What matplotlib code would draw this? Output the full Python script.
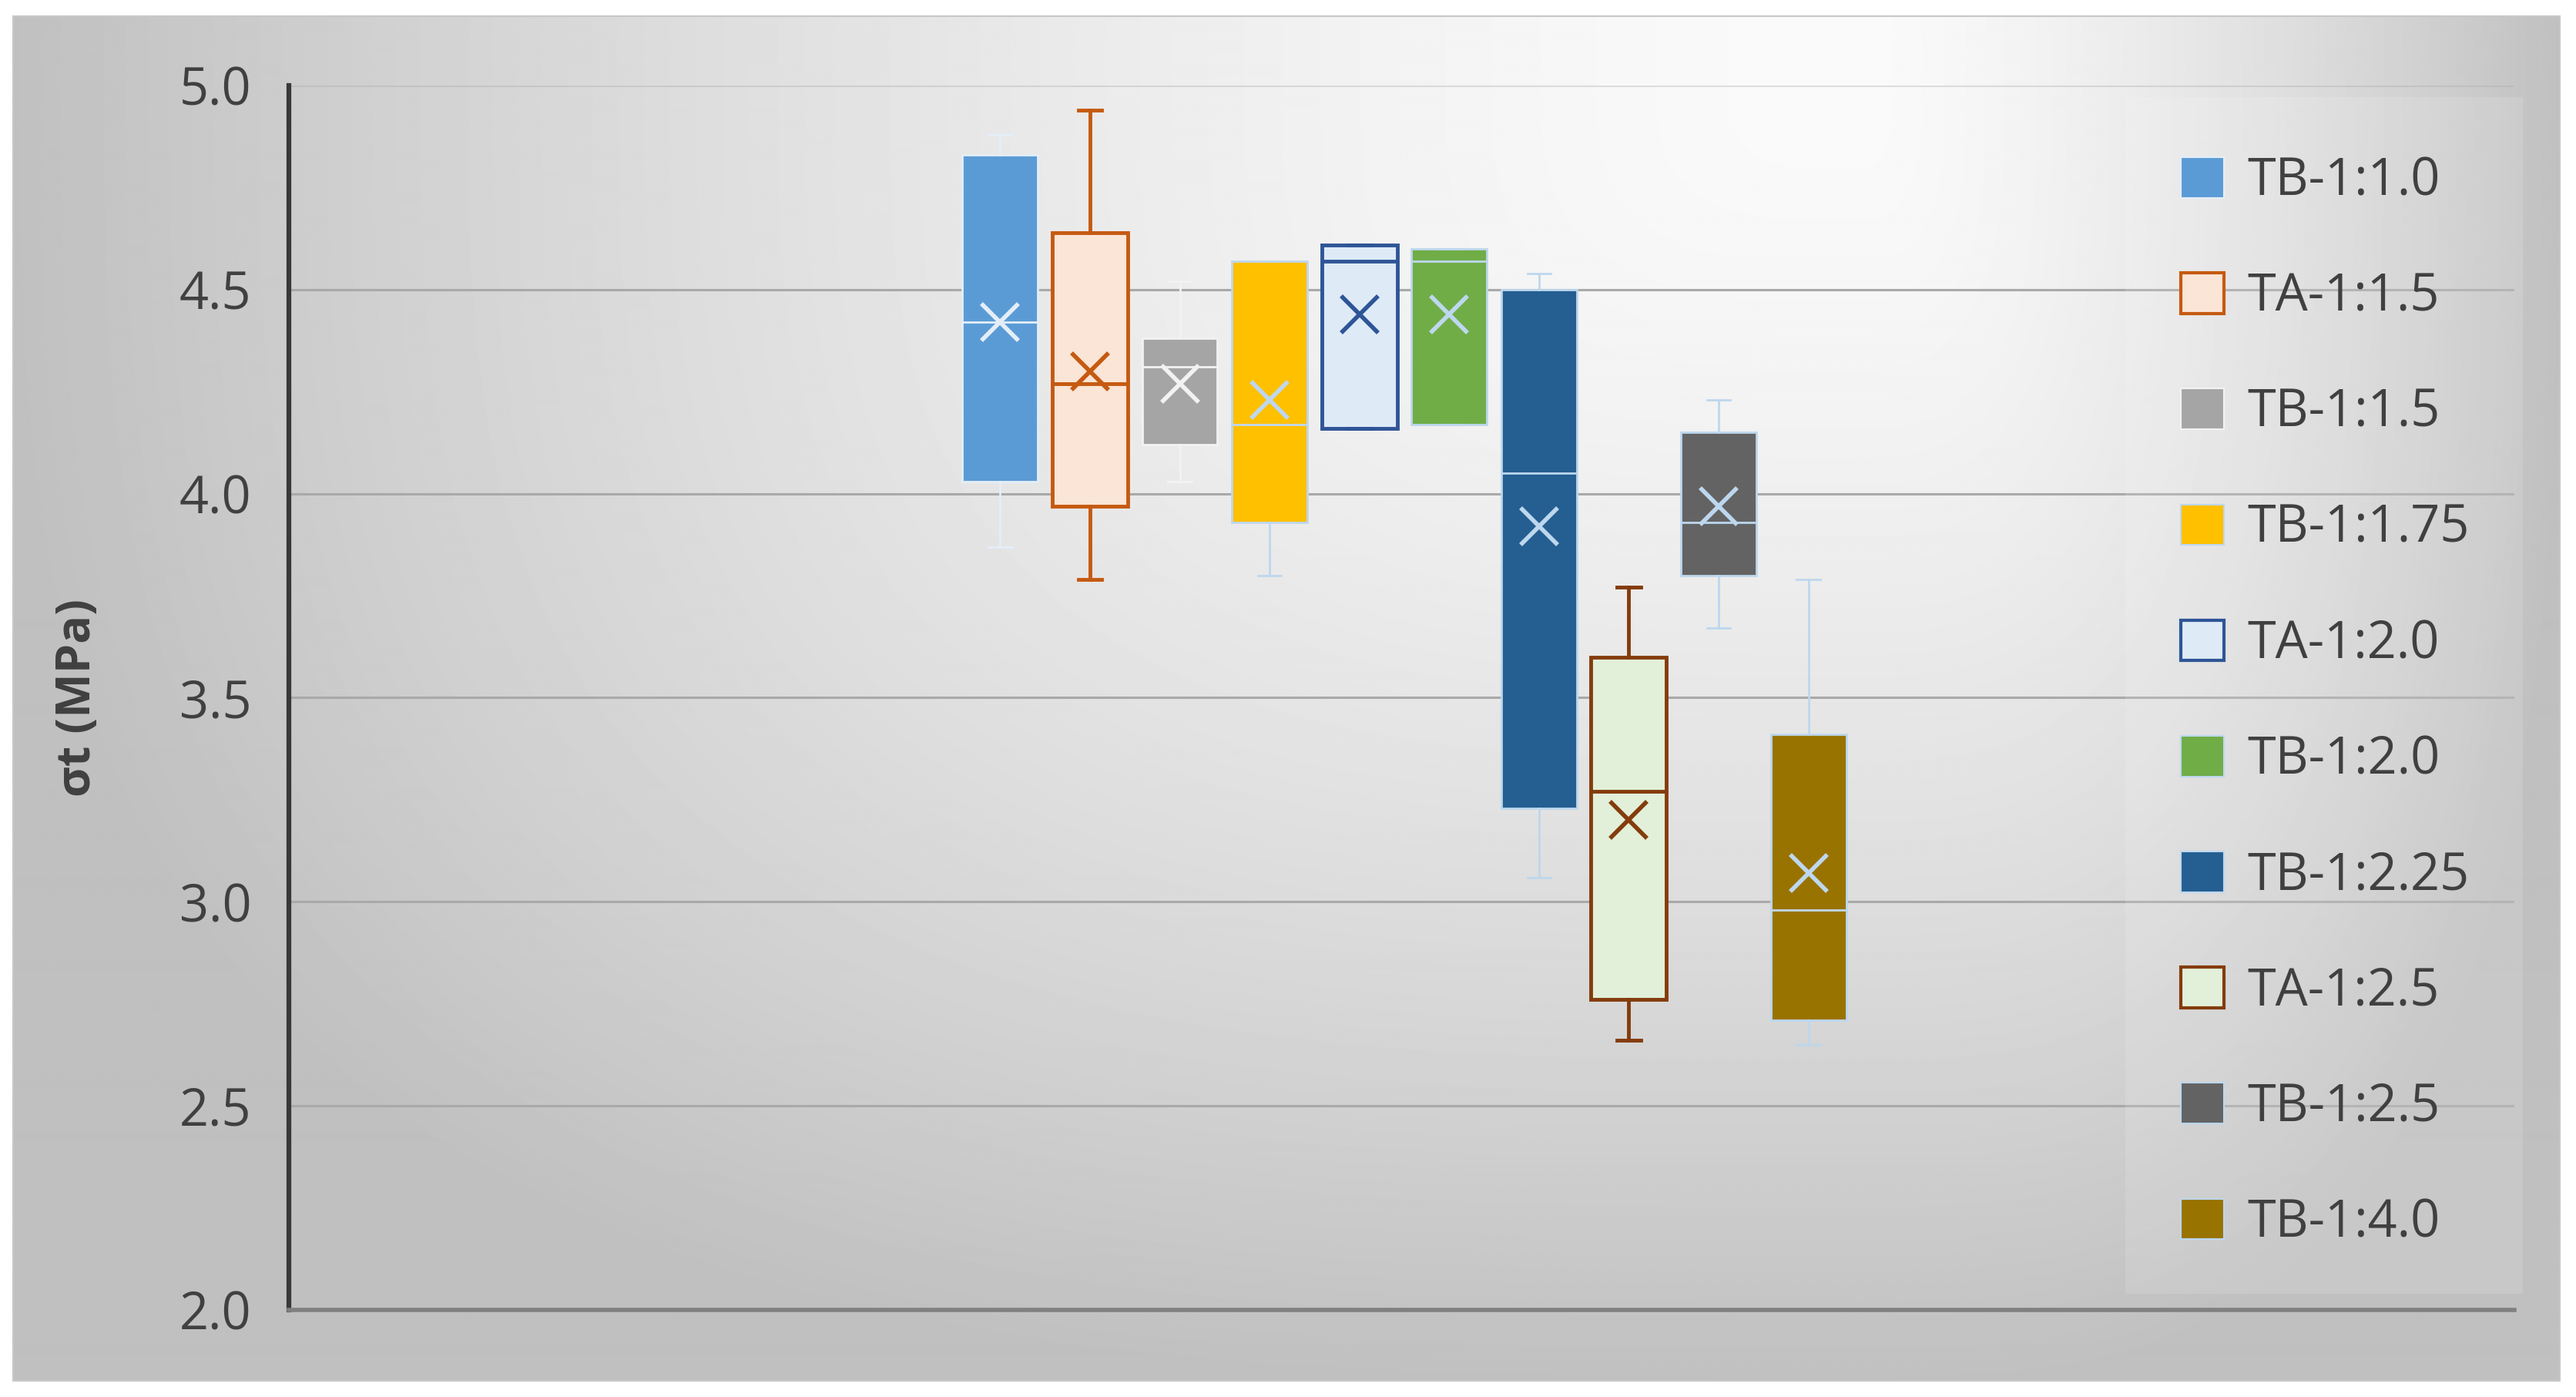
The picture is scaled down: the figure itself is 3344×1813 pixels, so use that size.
import numpy as np
import matplotlib
matplotlib.use('Agg')
import matplotlib.pyplot as plt
from matplotlib.patches import Patch, Rectangle

plt.rcParams['font.family'] = ['Open Sans', 'DejaVu Sans']

# ------------------------------------------------------------------ #
#  Data                                      #
# ------------------------------------------------------------------ #
LABELS   = ['TB-1:1.0', 'TA-1:1.5', 'TB-1:1.5', 'TB-1:1.75', 'TA-1:2.0',
            'TB-1:2.0', 'TB-1:2.25', 'TA-1:2.5', 'TB-1:2.5', 'TB-1:4.0']
WHIS_HI  = [4.88, 4.94, 4.52, 4.57, 4.61, 4.60, 4.54, 3.77, 4.23, 3.79]
Q3       = [4.83, 4.64, 4.38, 4.57, 4.61, 4.60, 4.50, 3.60, 4.15, 3.41]
MEDIAN   = [4.42, 4.27, 4.31, 4.17, 4.57, 4.57, 4.05, 3.27, 3.93, 2.98]
MEAN     = [4.42, 4.30, 4.27, 4.23, 4.44, 4.44, 3.92, 3.20, 3.97, 3.07]
Q1       = [4.03, 3.97, 4.12, 3.93, 4.16, 4.17, 3.23, 2.76, 3.80, 2.71]
WHIS_LO  = [3.87, 3.79, 4.03, 3.80, 4.16, 4.17, 3.06, 2.66, 3.67, 2.65]
Y_TICKS  = [2.0, 2.5, 3.0, 3.5, 4.0, 4.5, 5.0]

# box fill / outline + whisker + mean colour
FILLS = ['#5B9BD5', '#FBE5D6', '#A5A5A5', '#FFC000', '#DEEBF7',
         '#70AD47', '#255E91', '#E2F0D9', '#636363', '#997300']
LINES = ['#E4EEF8', '#C55A11', '#F2F2F2', '#BDD7EE', '#2F5597',
         '#BDD7EE', '#BDD7EE', '#843C0C', '#BDD7EE', '#BDD7EE']
OUTLINED = [False, True, False, False, True, False, False, True, False, False]

W, H = 3344, 1813
TEXT = '#404040'

fig = plt.figure(figsize=(W / 100, H / 100), dpi=100)
fig.patch.set_facecolor('white')

# ---- gradient panel behind everything ------------------------------
bg = fig.add_axes([0, 0, 1, 1], zorder=-10)
bg.axis('off')
px0, px1, py0, py1 = 17, 3323, 21, 1792
ys, xs = np.mgrid[py0:py1:2, px0:px1:2]
u = (xs - px0) / (px1 - px0)
v = (ys - py0) / (py1 - py0)
cu, cv = 0.72, 0.05
tx = np.where(u < cu, (cu - u) / cu, (u - cu) / (1 - cu))
ty = np.clip((v - cv) / (1 - cv), 0, 1)
t = np.clip((tx ** 3 + ty ** 3) ** (1 / 3), 0, 1)
val = (250 - 58 * t ** 1.5) / 255.0
bg.imshow(val, cmap='gray', vmin=0, vmax=1, extent=(px0, px1, py1, py0),
          interpolation='bilinear', aspect='auto')
bg.add_patch(Rectangle((px0, py0), px1 - px0, py1 - py0, facecolor='none',
                       edgecolor='#C8C8C8', linewidth=1.5))
bg.set_xlim(0, W)
bg.set_ylim(H, 0)

# ---- main axes -----------------------------------------------------
ax = fig.add_axes([375 / W, 1 - 1700 / H, (3264 - 375) / W, (1700 - 111) / H])
ax.set_facecolor('none')

for i, lab in enumerate(LABELS):
    stats = dict(med=MEDIAN[i], q1=Q1[i], q3=Q3[i], whislo=WHIS_LO[i],
                 whishi=WHIS_HI[i], mean=MEAN[i], fliers=[], label=lab)
    lw = 3.5 if OUTLINED[i] else 2.0
    ax.bxp([stats], positions=[i], widths=0.84, capwidths=0.26,
           patch_artist=True, showmeans=True, showfliers=False, manage_ticks=False,
           boxprops=dict(facecolor=FILLS[i], edgecolor=LINES[i], linewidth=lw),
           medianprops=dict(color=LINES[i], linewidth=lw),
           whiskerprops=dict(color=LINES[i], linewidth=lw),
           capprops=dict(color=LINES[i], linewidth=lw),
           meanprops=dict(marker='x', markeredgecolor=LINES[i],
                          markersize=34, markeredgewidth=4))

ax.set_ylim(2.0, 5.0)
ax.set_xlim(-7.92, 16.86)
ax.set_yticks(Y_TICKS)
ax.set_yticklabels([f'{y:.1f}' for y in Y_TICKS])
ax.set_xticks([])
ax.yaxis.grid(True, color='#A9A9A9', linewidth=2.2)
ax.yaxis.get_gridlines()[-1].set_alpha(0.35)
ax.set_axisbelow(True)
ax.tick_params(axis='y', length=0, pad=35, labelsize=48, labelcolor=TEXT)
for side in ('top', 'right'):
    ax.spines[side].set_visible(False)
ax.spines['left'].set_color('#383838')
ax.spines['left'].set_linewidth(4.5)
ax.spines['bottom'].set_color('#808080')
ax.spines['bottom'].set_linewidth(4)

ax.set_ylabel('σt (MPa)', fontsize=44, fontweight='bold', color=TEXT)
ax.yaxis.set_label_coords(-0.0841, 0.5)

# ---- legend --------------------------------------------------------
ax.add_patch(Rectangle((2759 / W, 1 - 1679 / H), (3275 - 2759) / W, (1679 - 126) / H,
                       transform=fig.transFigure, facecolor='white', alpha=0.13,
                       edgecolor='none', clip_on=False, zorder=2.5))
handles = [Patch(facecolor=f, edgecolor=e, linewidth=(3 if o else 1.5))
           for f, e, o in zip(FILLS, LINES, OUTLINED)]
leg = ax.legend(handles, LABELS, loc='upper left',
                bbox_to_anchor=(2831 / W, 1 - 202 / H), bbox_transform=fig.transFigure,
                frameon=False, fontsize=48, handlelength=0.84, handleheight=0.84,
                handletextpad=0.45, labelspacing=1.24, borderpad=0, borderaxespad=0)
for txt in leg.get_texts():
    txt.set_color(TEXT)

fig.savefig('out.png', dpi=100, facecolor=fig.get_facecolor())
